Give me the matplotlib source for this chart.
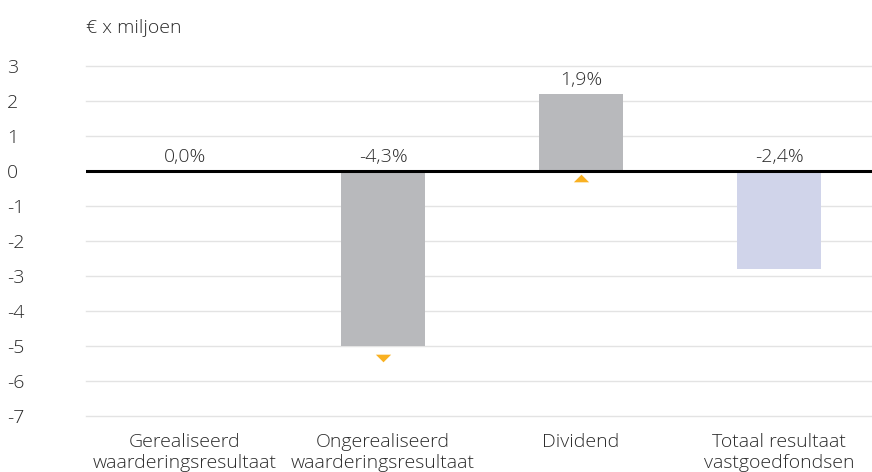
import numpy as np
import matplotlib.pyplot as plt

plt.rcParams['font.family'] = ['Open Sans', 'DejaVu Sans']
plt.rcParams['font.weight'] = 'light'

categories = ['Gerealiseerd\nwaarderingsresultaat', 'Ongerealiseerd\nwaarderingsresultaat',
              'Dividend', 'Totaal resultaat\nvastgoedfondsen']
values = [0.0, -5.0, 2.2, -2.8]
pct_labels = ['0,0%', '-4,3%', '1,9%', '-2,4%']
bar_colors = ['#b8b9bc', '#b8b9bc', '#b8b9bc', '#d0d4ea']

# orange direction markers (flat triangles)
marker_x = [1, 2]
marker_y = [-5.35, -0.2]
marker_dir = [-1, 1]

yticks = [3, 2, 1, 0, -1, -2, -3, -4, -5, -6, -7]
text_color = '#2b2b2b'

fig = plt.figure(figsize=(8.72, 4.72), dpi=100)
ax = fig.add_axes([86 / 872, 56 / 472, 792 / 872, 350 / 472])

x = np.arange(len(categories))
ax.bar(x, values, width=0.42, color=bar_colors, zorder=2)

for xi, yi, d in zip(marker_x, marker_y, marker_dir):
    tri = [(-1, -0.5 * d), (1, -0.5 * d), (0, 0.5 * d), (-1, -0.5 * d)]
    ax.plot(xi, yi, marker=tri, color='#f9b122', markersize=11, linestyle='none',
            markeredgewidth=0, zorder=3)

for xi, v, lab in zip(x, values, pct_labels):
    ax.text(xi, max(v, 0) + 0.13, lab, ha='center', va='bottom', fontsize=14,
            color=text_color)

ax.set_xlim(-0.5, 3.5)
ax.set_ylim(-7, 3)
ax.set_yticks(yticks)
ax.set_yticklabels([str(t) for t in yticks])
for t in yticks:
    if t != 0:
        ax.axhline(t, color='#e3e3e3', linewidth=1, zorder=1, clip_on=False)
ax.axhline(0, color='black', linewidth=2.2, zorder=4)

ax.set_xticks(x)
ax.set_xticklabels(categories, fontsize=14, color=text_color, linespacing=1.22)
ax.tick_params(axis='x', length=0, pad=12.5)
ax.tick_params(axis='y', length=0, pad=57, labelsize=14, labelcolor=text_color)
for lab in ax.get_yticklabels():
    lab.set_horizontalalignment('left')

for s in ax.spines.values():
    s.set_visible(False)

fig.text(86 / 872, 1 - 28 / 472, '€ x miljoen', fontsize=14, color=text_color,
         ha='left', va='center')

fig.savefig('out.png', dpi=100)
